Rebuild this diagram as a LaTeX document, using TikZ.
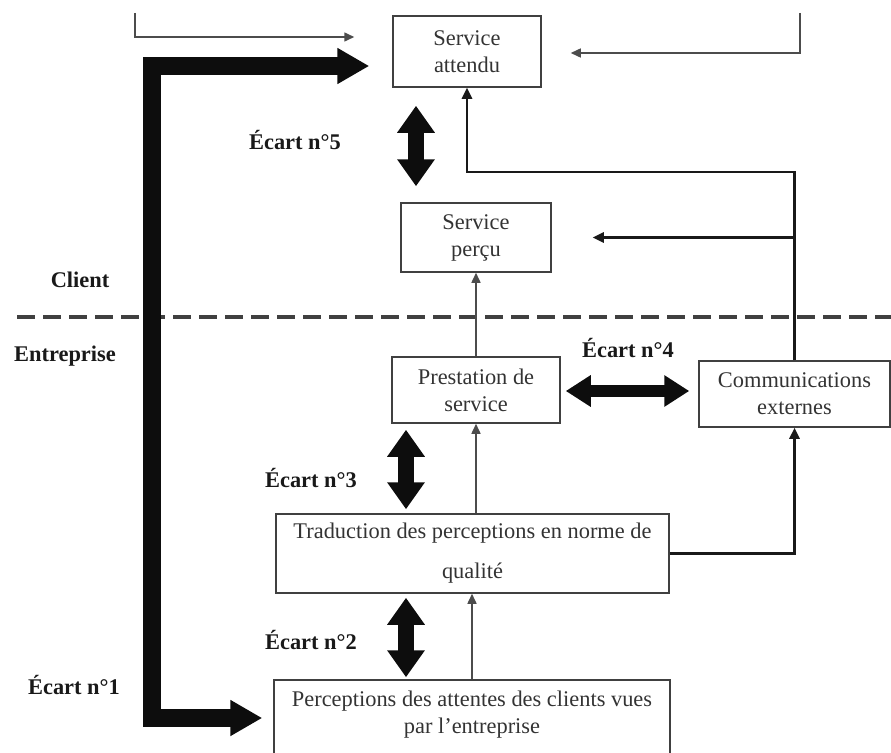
\documentclass[tikz,border=0pt]{standalone}
\usepackage{fontspec}
\setmainfont{Liberation Serif}
\usetikzlibrary{arrows.meta, positioning, calc}
\tikzstyle{box} = [rectangle, draw=black!75, line width=1.5pt, text=black!80, align=center, inner sep=0pt]
\tikzstyle{ecart} = [font=\fontsize{22.4}{27}\selectfont\bfseries, text=black!90]
\tikzstyle{flow} = [line width=1.5pt, draw=black!70, -{Triangle[length=10pt,width=9pt]}]
\tikzstyle{flowbold} = [line width=2.5pt, draw=black!90, -{Triangle[length=11pt,width=10pt]}]
\tikzstyle{gap} = [line width=16pt, draw=black!95, {Triangle[length=27pt,width=36pt]}-{Triangle[length=27pt,width=36pt]}]
\tikzstyle{big} = [line width=18pt, draw=black!95, -{Triangle[length=32pt,width=34pt]}]
\tikzstyle{dashline} = [line width=3.5pt, draw=black!75, dash pattern=on 18pt off 8pt]

\begin{document}
\begin{tikzpicture}[x=1pt, y=1pt, font=\fontsize{22.4}{27}\selectfont]
\useasboundingbox (0,0) rectangle (891,-752);
% boxes
\node (attendu) [box, minimum width=148pt, minimum height=71pt] at (467,-51.5) {Service\\attendu};
\node (percu) [box, below of=attendu, node distance=186pt, xshift=9pt, minimum width=150pt, minimum height=69pt] {Service\\perçu};
\node (prest) [box, below of=percu, node distance=152.5pt, minimum width=168pt, minimum height=66pt] {Prestation de\\service};
\node (comm) [box, right of=prest, node distance=318.5pt, yshift=-4pt, minimum width=191pt, minimum height=66pt] {Communications\\externes};
\node (trad) [box, below of=prest, node distance=163.5pt, xshift=-3.5pt, minimum width=393pt, minimum height=79pt] {Traduction des perceptions en norme de\\[13pt]qualité};
\node (perc) [box, below of=trad, node distance=168.5pt, xshift=-0.5pt, minimum width=396pt, minimum height=84pt, text depth=20pt] {Perceptions des attentes des clients vues\\par l’entreprise};
% labels
\node (client) [ecart] at (80,-280) {Client};
\node (entr) [ecart] at (65,-356) {Entreprise};
\node (e5) [ecart] at (295,-140) {Écart n°5};
\node (e4) [ecart] at (628,-348) {Écart n°4};
\node (e3) [ecart] at (311,-478) {Écart n°3};
\node (e2) [ecart] at (311,-640) {Écart n°2};
\node (e1) [ecart] at (74,-685) {Écart n°1};
% free ends
\coordinate (tl) at (135,-13);
\coordinate (tr) at (800,-13);
\coordinate (dl) at (17,-317);
\coordinate (dr) at (891,-317);
\coordinate (bar) at (152,-400);
% client / entreprise border
\draw [dashline] (dl) -- (dr);
% thin arrows
\draw [flow] (tl) |- ([xshift=-38pt,yshift=14.5pt]attendu.west);
\draw [flow] (tr) |- ([xshift=29pt,yshift=-1.5pt]attendu.east);
\draw [flow] (prest.north) -- (percu.south);
\draw [flow] (trad.north -| prest.south) -- (prest.south);
\draw [flow] (perc.north) -- (perc.north |- trad.south);
\draw [flowbold] (trad.east) -| (comm.south);
\draw [flowbold] (comm.north) |- ([yshift=-84pt]attendu.south) -- (attendu.south);
\draw [flowbold] (comm.north |- percu.east) -- ([xshift=41pt]percu.east);
% gaps
\draw [big, {Triangle[length=32pt,width=34pt]}-{Triangle[length=32pt,width=34pt]}] ([xshift=-23pt,yshift=-14.5pt]attendu.west) -| (bar) |- ([xshift=-11pt,yshift=4pt]perc.west);
\draw [gap] ([xshift=-51pt,yshift=-18pt]attendu.south) -- ([xshift=-60pt,yshift=16pt]percu.north);
\draw [gap, line width=12pt, {Triangle[length=25pt,width=30pt]}-{Triangle[length=25pt,width=30pt]}] ([xshift=5pt,yshift=-1pt]prest.east) -- ([xshift=-9pt,yshift=3pt]comm.west);
\draw [gap] ([xshift=-70pt,yshift=-6pt]prest.south) -- ([xshift=-66.5pt,yshift=4pt]trad.north);
\draw [gap] ([xshift=-66.5pt,yshift=-4pt]trad.south) -- ([xshift=-66pt,yshift=2pt]perc.north);
\end{tikzpicture}
\end{document}
